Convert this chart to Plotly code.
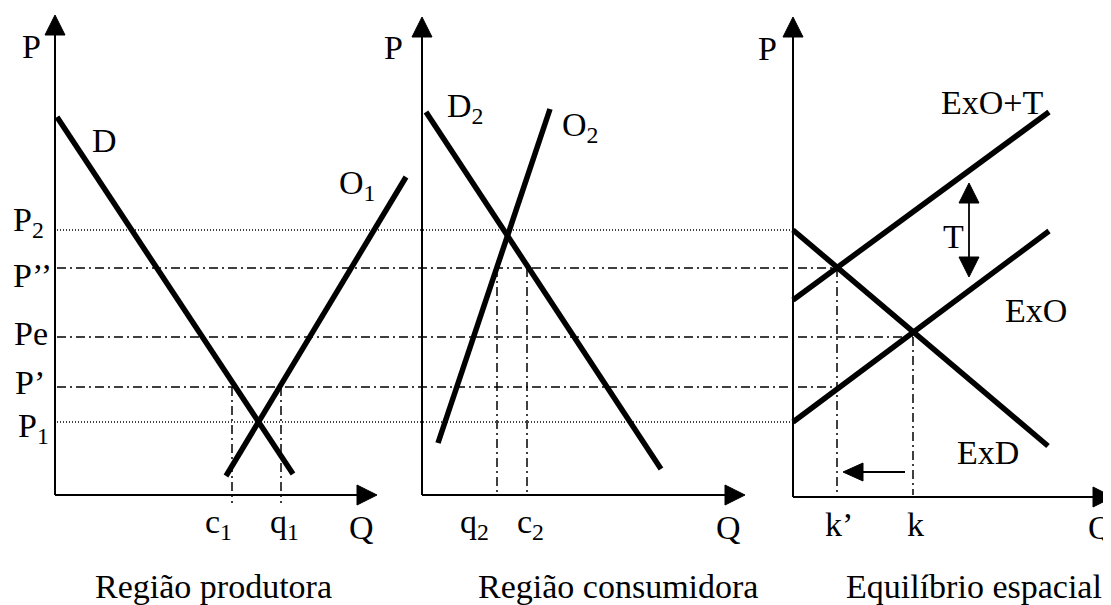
import plotly.graph_objects as go

W, H = 1111, 605
PAGE_MARGIN = 8  # default body margin of the html page
FONT = "Liberation Serif, Times New Roman, serif"
FS = 34

# ---- panels (diagram coordinates, y grows downward like the picture) ----
panel_titles = ["Região produtora", "Região consumidora", "Equilíbrio espacial"]
panel_title_x = [213, 618, 974]
panel_title_y = 586
axis_origin_x = [55, 422, 793]
axis_origin_y = [495, 495, 497]
axis_top_y = [15, 17, 17]
axis_end_x = [377, 745, 1113]
p_label_x = [31, 393, 767]
p_label_y = [46, 47, 48]
q_axis_label_x = [361, 728, 1100]
q_axis_label_y = 527

# ---- price levels ----
price_labels = ["P<sub>2</sub>", "P’’", "Pe", "P’", "P<sub>1</sub>"]
price_levels = [230, 268, 337, 387, 422]
price_label_x = [11, 11, 12, 13, 16]
price_label_y = [222, 275, 333, 382, 428]
price_line_start = 57
price_line_end = [793, 837, 913, 837, 793]
price_line_kind = ["dot", "dashdot", "dashdot", "dashdot", "dot"]

# ---- curves (two end points each) ----
curve_labels = ["D", "O<sub>1</sub>", "D<sub>2</sub>", "O<sub>2</sub>", "ExO+T", "ExO", "ExD"]
curve_x0 = [57, 226, 426, 438, 793, 793, 793]
curve_y0 = [117, 476, 112, 443, 300, 422, 230]
curve_x1 = [293, 406, 661, 550, 1049, 1049, 1048]
curve_y1 = [474, 177, 469, 109, 112, 231, 446]
curve_label_x = [104, 357, 465, 580, 992, 1036, 988]
curve_label_y = [140, 185, 108, 127, 102, 310, 452]

# ---- quantities ----
quantity_labels = ["c<sub>1</sub>", "q<sub>1</sub>", "q<sub>2</sub>", "c<sub>2</sub>", "k’", "k"]
quantity_x = [232, 281, 497, 527, 837, 913]
quantity_top = [387, 387, 268, 268, 268, 337]
quantity_bottom = [503, 503, 495, 495, 495, 495]
quantity_label_x = [218, 284, 474, 530, 839, 915]
quantity_label_y = 524

# ---- tariff arrow and shift arrow ----
tariff_x = 969
tariff_top, tariff_bottom = 183, 277
tariff_label = "T"
tariff_label_xy = (953, 236)
shift_y = 472
shift_from, shift_to = 905, 843

dash_styles = {"dot": "1px,2px", "dashdot": "9px,4px,2px,4px", "dash": "7px,4px"}

fig = go.Figure()


def seg(xs, ys, width, dash=None):
    fig.add_trace(go.Scatter(x=xs, y=ys, mode="lines",
                             line=dict(color="black", width=width, dash=dash),
                             hoverinfo="skip", showlegend=False))


def tri(tx, ty, direction, length=20, half=10):
    if direction == "up":
        xs, ys = [tx, tx - half, tx + half, tx], [ty, ty + length, ty + length, ty]
    elif direction == "down":
        xs, ys = [tx, tx - half, tx + half, tx], [ty, ty - length, ty - length, ty]
    elif direction == "right":
        xs, ys = [tx, tx - length, tx - length, tx], [ty, ty - half, ty + half, ty]
    else:
        xs, ys = [tx, tx + length, tx + length, tx], [ty, ty - half, ty + half, ty]
    fig.add_trace(go.Scatter(x=xs, y=ys, mode="lines", fill="toself",
                             fillcolor="black", line=dict(color="black", width=1),
                             hoverinfo="skip", showlegend=False))


def label(text, x, y, xanchor="center", size=FS):
    fig.add_annotation(x=x, y=y, text=text, showarrow=False, xanchor=xanchor,
                       yanchor="middle", font=dict(family=FONT, size=size, color="black"))


# reference price lines
for lvl, end, kind in zip(price_levels, price_line_end, price_line_kind):
    seg([price_line_start, end], [lvl, lvl], 1.3, dash_styles[kind])

# quantity drop lines
for qx, top, bot in zip(quantity_x, quantity_top, quantity_bottom):
    seg([qx, qx], [top, bot], 1.5, dash_styles["dashdot"])

# axes
for ox, oy, ty, ex in zip(axis_origin_x, axis_origin_y, axis_top_y, axis_end_x):
    seg([ox, ox], [oy, ty + 15], 2)
    seg([ox, ex - 15], [oy, oy], 2)
    tri(ox, ty, "up")
    tri(ex, oy, "right")

# curves
for x0, y0, x1, y1 in zip(curve_x0, curve_y0, curve_x1, curve_y1):
    seg([x0, x1], [y0, y1], 5.5)

# tariff double arrow
seg([tariff_x, tariff_x], [tariff_top + 15, tariff_bottom - 15], 1.8)
tri(tariff_x, tariff_top, "up")
tri(tariff_x, tariff_bottom, "down")
label(tariff_label, *tariff_label_xy)

# shift arrow
seg([shift_from, shift_to + 15], [shift_y, shift_y], 1.8)
tri(shift_to, shift_y, "left", length=20, half=9)

# labels
for t, x in zip(panel_titles, panel_title_x):
    label(t, x, panel_title_y)
for x, y in zip(p_label_x, p_label_y):
    label("P", x, y)
for x in q_axis_label_x:
    label("Q", x, q_axis_label_y)
for t, x, y in zip(price_labels, price_label_x, price_label_y):
    label(t, x, y, xanchor="left")
for t, x, y in zip(curve_labels, curve_label_x, curve_label_y):
    label(t, x, y)
for t, x in zip(quantity_labels, quantity_label_x):
    label(t, x, quantity_label_y)

# the page adds an 8px body margin, so the figure is shifted by it;
# map the diagram coordinates so that they land on the same screen pixels
fig.update_layout(
    width=W - PAGE_MARGIN, height=H - PAGE_MARGIN,
    margin=dict(l=0, r=0, t=0, b=0),
    paper_bgcolor="white", plot_bgcolor="white", showlegend=False,
    xaxis=dict(range=[PAGE_MARGIN, W], visible=False, fixedrange=True),
    yaxis=dict(range=[H, PAGE_MARGIN], visible=False, fixedrange=True),
)

fig.write_html("out.html")
